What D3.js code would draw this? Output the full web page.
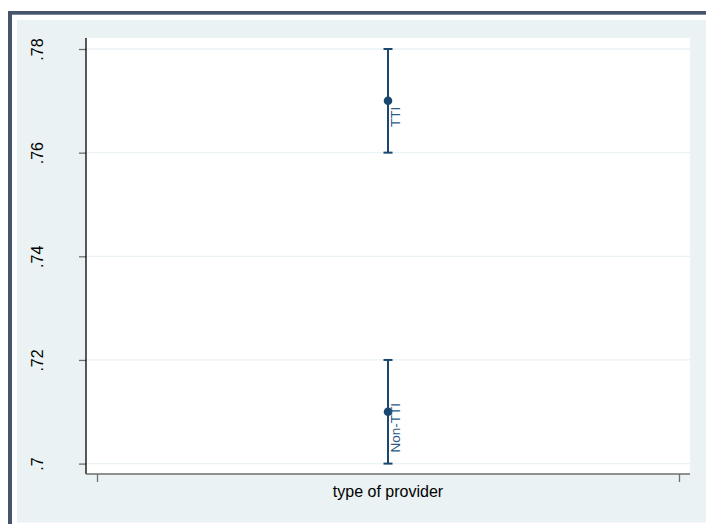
<!DOCTYPE html>
<html>
<head>
<meta charset="utf-8">
<script src="https://cdn.jsdelivr.net/npm/d3@7"></script>
<style>
html,body{margin:0;padding:0;background:#fff;}
svg{display:block;}
text{font-family:"Liberation Sans",Arial,sans-serif;}
</style>
</head>
<body>
<svg id="chart" width="706" height="524"></svg>
<script>
// ---- data ----
const groups = ["TTI", "Non-TTI"];
const estimates = [0.77, 0.71];
const lowerCI = [0.76, 0.70];
const upperCI = [0.78, 0.72];
const groupX = [1, 1];
const yTicks = [0.70, 0.72, 0.74, 0.76, 0.78];
const yTickLabels = [".7", ".72", ".74", ".76", ".78"];
const xTicks = [0, 2];
const xTitle = "type of provider";

// ---- layout ----
const W = 706, H = 524;
const plot = {left: 86, right: 690, top: 38, bottom: 474};
const navy = "#1a476f";

const svg = d3.select("#chart");

// outer frame
svg.append("rect").attr("x", 0).attr("y", 0).attr("width", W).attr("height", H).attr("fill", "#fff");
svg.append("rect").attr("x", 8).attr("y", 11).attr("width", W + 20).attr("height", H + 20)
  .attr("fill", "none").attr("stroke", "#4a5a6e").attr("stroke-width", 0).attr("opacity", 0);
svg.append("rect").attr("x", 8).attr("y", 11).attr("width", 4).attr("height", H - 11).attr("fill", "#46556b");
svg.append("rect").attr("x", 8).attr("y", 11).attr("width", W - 8).attr("height", 3.7).attr("fill", "#46556b");
svg.append("rect").attr("x", 17).attr("y", 20).attr("width", W - 17).attr("height", 502.5).attr("fill", "#eaf2f3");

// plot region
svg.append("rect").attr("x", plot.left).attr("y", plot.top)
  .attr("width", plot.right - plot.left).attr("height", plot.bottom - plot.top).attr("fill", "#fff");

const y = d3.scaleLinear().domain([0.70, 0.78]).range([463.6, 49]);
const x = d3.scaleLinear().domain([0, 2]).range([97, 679]);

// gridlines
svg.append("g").selectAll("line").data(yTicks).join("line")
  .attr("x1", plot.left).attr("x2", plot.right)
  .attr("y1", d => y(d)).attr("y2", d => y(d))
  .attr("stroke", "#eaf2f3").attr("stroke-width", 1.3);

// y axis
const yAxis = d3.axisLeft(y).tickValues(yTicks).tickSize(7)
  .tickFormat((d, i) => yTickLabels[i]);
const gy = svg.append("g").attr("transform", `translate(${plot.left},0)`).call(yAxis);
gy.select(".domain").remove();
gy.selectAll(".tick line").attr("stroke", "#6e6e6e").attr("stroke-width", 1.3);
gy.selectAll(".tick text")
  .attr("x", 0).attr("y", 0).attr("dy", null)
  .attr("transform", `translate(${43 - plot.left},0) rotate(-90)`)
  .attr("text-anchor", "middle")
  .attr("font-size", 16).attr("fill", "#000");
svg.append("line").attr("x1", plot.left).attr("x2", plot.left)
  .attr("y1", plot.top).attr("y2", plot.bottom).attr("stroke", "#000").attr("stroke-width", 1.3);

// x axis
const xAxis = d3.axisBottom(x).tickValues(xTicks).tickSize(8).tickFormat("");
const gx = svg.append("g").attr("transform", `translate(0,${plot.bottom})`).call(xAxis);
gx.select(".domain").remove();
gx.selectAll(".tick line").attr("stroke", "#6e6e6e").attr("stroke-width", 1.3);
svg.append("line").attr("x1", plot.left).attr("x2", plot.right)
  .attr("y1", plot.bottom).attr("y2", plot.bottom).attr("stroke", "#6e6e6e").attr("stroke-width", 1.5);

svg.append("text").attr("x", (x(0) + x(2)) / 2).attr("y", 497)
  .attr("text-anchor", "middle").attr("font-size", 16).attr("fill", "#000").text(xTitle);

// error bars
const eb = svg.append("g");
groups.forEach((g, i) => {
  const cx = x(groupX[i]);
  eb.append("line").attr("x1", cx).attr("x2", cx)
    .attr("y1", y(lowerCI[i])).attr("y2", y(upperCI[i]))
    .attr("stroke", navy).attr("stroke-width", 2);
  [lowerCI[i], upperCI[i]].forEach(v => {
    eb.append("line").attr("x1", cx - 4.5).attr("x2", cx + 4.5)
      .attr("y1", y(v)).attr("y2", y(v)).attr("stroke", navy).attr("stroke-width", 2);
  });
  eb.append("circle").attr("cx", cx).attr("cy", y(estimates[i])).attr("r", 4.3).attr("fill", navy);
  eb.append("text")
    .attr("transform", `translate(${cx + 12},${y(estimates[i]) + 16}) rotate(-90)`)
    .attr("text-anchor", "middle").attr("font-size", 13.5).attr("fill", "#2c5a86")
    .text(g);
});
</script>
</body>
</html>
